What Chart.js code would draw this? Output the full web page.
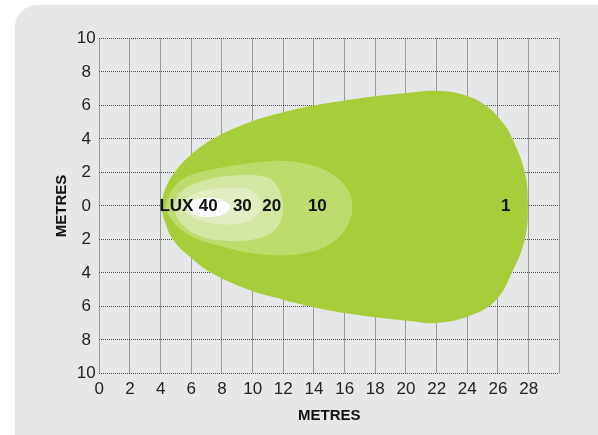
<!DOCTYPE html>
<html><head><meta charset="utf-8">
<script src="https://cdn.jsdelivr.net/npm/chart.js@4.4.0/dist/chart.umd.min.js"></script>
<style>
html,body{margin:0;padding:0;background:#fff;}
#wrap{position:relative;width:598px;height:435px;overflow:hidden;}
#panel{position:absolute;left:15px;top:5px;width:600px;height:440px;background:#e6e7e9;border-top-left-radius:22px;}
canvas{position:absolute;left:0;top:0;}
</style></head><body>
<div id="wrap"><div id="panel"></div><canvas id="c" width="598" height="435"></canvas></div>
<script>
// Tick labels
const xTickLabels = ['0','2','4','6','8','10','12','14','16','18','20','22','24','26','28',''];
const yTickLabels = ['10','8','6','4','2','0','2','4','6','8','10'];

// Iso-lux contours (metres): x = distance, y = lateral
const lux1X = [4, 4.3, 4.9, 5.9, 7.4, 9.8, 12, 14, 16, 18, 20, 22, 23.9, 25.2, 26.3, 26.95, 27.75, 27.95, 27.75, 26.9, 25.9, 24.2, 22, 20, 18, 16, 14, 12, 9.8, 7.3, 5.85, 4.8, 4.3, 4];
const lux1Y = [0, 1.0, 2.0, 3.0, 4.0, 5.0, 5.6, 6.0, 6.3, 6.55, 6.75, 6.88, 6.6, 6.0, 5.0, 4.0, 2.0, 0, -2.0, -4.0, -5.6, -6.55, -7.0, -6.85, -6.65, -6.4, -6.05, -5.6, -5.03, -4.0, -3.0, -2.0, -1.0, 0];

const lux10X = [4.3, 4.7, 5.45, 6.5, 7.7, 9.8, 11.8, 13.5, 15, 16.1, 16.5, 16.1, 15, 13.5, 11.8, 9.8, 7.7, 6.2, 5.2, 4.6, 4.3];
const lux10Y = [0, 0.9, 1.6, 2.0, 2.25, 2.55, 2.7, 2.5, 2.0, 1.1, 0, -1.3, -2.3, -2.8, -2.95, -2.8, -2.35, -1.9, -1.3, -0.7, 0];

const lux20X = [4.81, 5.27, 6.56, 8.51, 10.47, 11.44, 11.97, 11.57, 10.47, 8.51, 6.56, 5.27, 4.81];
const lux20Y = [0, 0.78, 1.44, 1.8, 1.8, 1.38, 0, -1.32, -1.92, -2.1, -1.8, -0.96, 0];

const lux30X = [5.27, 5.9, 7.2, 8.84, 9.94, 10.6, 9.94, 8.84, 7.2, 5.9, 5.27];
const lux30Y = [0, 0.6, 0.96, 1.08, 0.9, 0, -0.78, -1.08, -1.02, -0.6, 0];

const lux40X = [5.52, 6.24, 7.2, 8.13, 8.51, 8.13, 7.2, 6.24, 5.52];
const lux40Y = [-0.06, 0.36, 0.48, 0.3, -0.06, -0.48, -0.66, -0.54, -0.06];

// In-chart labels
const luxLabels = ['LUX','40','30','20','10','1'];
const luxLabelX = [5.03, 7.11, 9.33, 11.25, 14.22, 26.5];
const luxLabelY = [0, 0, 0, 0, 0, 0];

const toPts = (xs, ys) => xs.map((v, i) => ({x: v, y: ys[i]}));
const shape = (xs, ys, color) => ({
  data: toPts(xs, ys), showLine: true, fill: 'shape', backgroundColor: color,
  borderColor: color, borderWidth: 0, pointRadius: 0, tension: 0.4
});

const labelPlugin = {
  id: 'luxLabels',
  afterDatasetsDraw(chart) {
    const {ctx, scales: {x, y}} = chart;
    ctx.save();
    ctx.font = 'bold 17px "Liberation Sans"';
    ctx.fillStyle = '#111';
    ctx.textAlign = 'center';
    ctx.textBaseline = 'middle';
    luxLabels.forEach((t, i) => ctx.fillText(t, x.getPixelForValue(luxLabelX[i]), y.getPixelForValue(luxLabelY[i])));
    ctx.restore();
  }
};

new Chart(document.getElementById('c'), {
  type: 'scatter',
  data: {
    datasets: [
      shape(lux40X, lux40Y, '#ffffff'),
      shape(lux30X, lux30Y, '#e2eec1'),
      shape(lux20X, lux20Y, '#d4e7a2'),
      shape(lux10X, lux10Y, '#bedb6e'),
      shape(lux1X, lux1Y, '#a8cd3a')
    ]
  },
  options: {
    responsive: false, animation: false, devicePixelRatio: 1,
    layout: {padding: {left: 45, right: 38.7, top: 38.5, bottom: 0}},
    plugins: {legend: {display: false}, tooltip: {enabled: false}},
    scales: {
      x: {
        type: 'linear', min: 0, max: 30,
        afterFit: s => { s.height = 61.7; },
        grid: {color: '#4a4a4a', lineWidth: 1, drawTicks: false},
        border: {display: false, dash: [1, 1]},
        ticks: {stepSize: 2, autoSkip: false, maxRotation: 0, padding: 6, color: '#222',
          font: {family: 'Liberation Sans', size: 17},
          callback: (v, i) => xTickLabels[i]},
        title: {display: true, text: 'METRES', color: '#111',
          font: {family: 'Liberation Sans', size: 15, weight: 'bold'}, padding: {top: 0, bottom: 10}}
      },
      y: {
        type: 'linear', min: -10, max: 10,
        afterFit: s => { s.width = 54.3; },
        grid: {color: '#4a4a4a', lineWidth: 1, drawTicks: false},
        border: {display: false, dash: [1, 1]},
        ticks: {stepSize: 2, autoSkip: false, padding: 3.6, crossAlign: 'center', color: '#222',
          font: {family: 'Liberation Sans', size: 17},
          callback: (v, i) => yTickLabels[i]},
        title: {display: true, text: 'METRES', color: '#111',
          font: {family: 'Liberation Sans', size: 15, weight: 'bold'}, padding: {top: 7.7, bottom: 0}}
      }
    }
  },
  plugins: [labelPlugin]
});
</script>
</body></html>
